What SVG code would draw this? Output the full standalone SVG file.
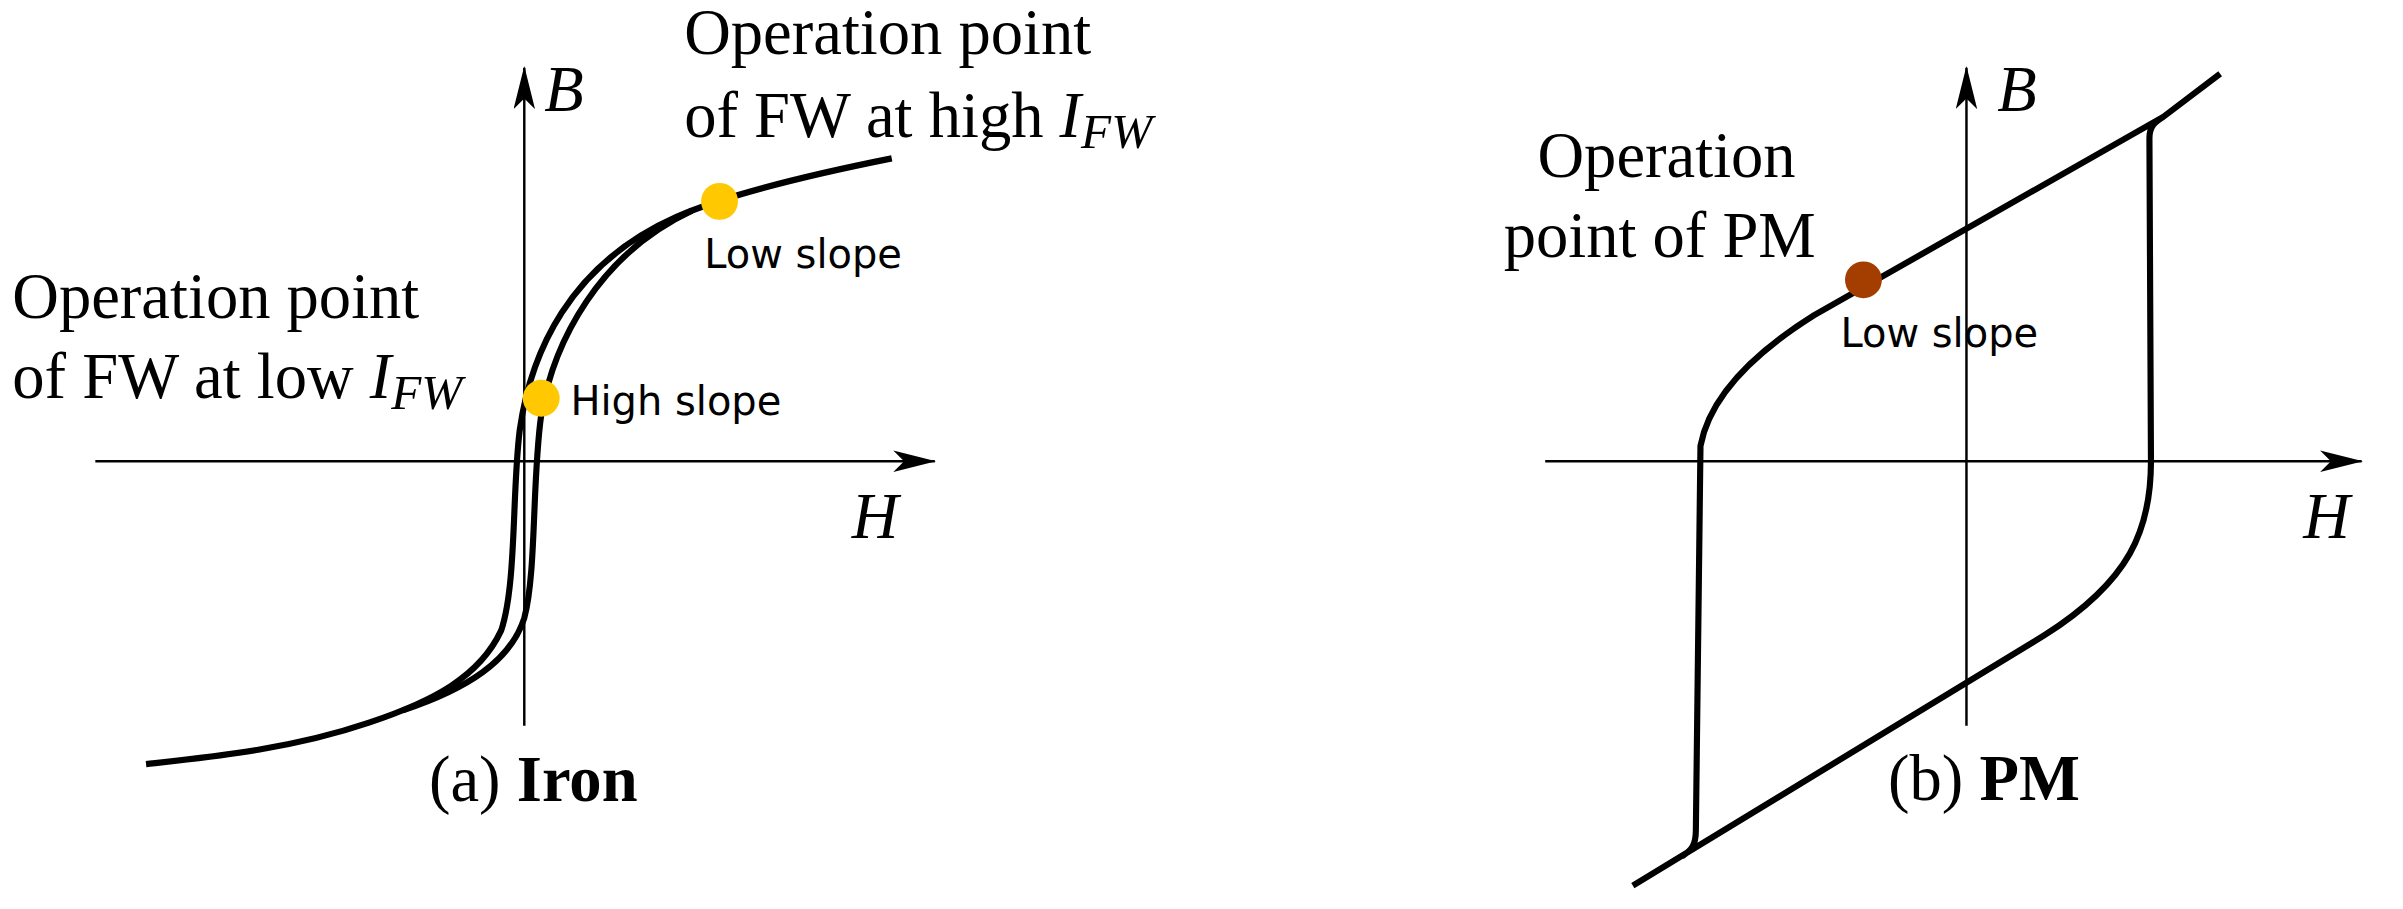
<svg xmlns="http://www.w3.org/2000/svg" width="2403" height="909" viewBox="0 0 2403 909">
<defs>
<style>
.ax{stroke:#000;stroke-width:1.6;fill:none}
.cv{stroke:#000;stroke-width:4;fill:none;stroke-linejoin:round}
.sr{font-family:"Liberation Serif",serif;font-size:42px;fill:#000}
.it{font-style:italic}
.ss{font-family:"DejaVu Sans",sans-serif;font-size:26px;fill:#000}
</style>
<marker id="ar" viewBox="0 0 28 14" refX="27" refY="7" markerWidth="28" markerHeight="14" markerUnits="userSpaceOnUse" orient="auto"><path d="M0,0 L28,7 L0,14 L7,7 Z" fill="#000"/></marker>
</defs>
<rect width="2403" height="909" fill="#fff"/>
<g transform="scale(1.5375)">
<g id="connectors">
<line class="ax" x1="341" y1="472" x2="341" y2="44" marker-end="url(#ar)"/>
<line class="ax" x1="62" y1="300" x2="608" y2="300" marker-end="url(#ar)"/>
<line class="ax" x1="1279" y1="472" x2="1279" y2="44" marker-end="url(#ar)"/>
<line class="ax" x1="1005" y1="300" x2="1536" y2="300" marker-end="url(#ar)"/>
</g>
<g id="iron">
<path class="cv" d="M580,103 C520,115 470,128 440,141 C370,172 345,230 338,280 C333,320 336,380 326,410 C312,440 282,456 240,470 C190,487 140,492 95,497"/>
<path class="cv" d="M450,137 C390,165 360,222 352,270 C346,312 349,372 341,402 C332,430 304,448 262,462"/>
<circle cx="468" cy="131" r="12" fill="#ffc800"/>
<circle cx="352" cy="259" r="12" fill="#ffc800"/>
<text class="sr it" x="354" y="72">B</text>
<text class="sr it" x="554" y="350">H</text>
<text class="ss" x="458" y="174">Low slope</text>
<text class="ss" x="371" y="270">High slope</text>
<text class="sr" x="445" y="35">Operation point</text>
<text class="sr" x="445" y="89">of FW at high <tspan class="it">I</tspan><tspan class="it" font-size="32" dy="7">FW</tspan></text>
<text class="sr" x="8" y="207">Operation point</text>
<text class="sr" x="8" y="259">of FW at low <tspan class="it">I</tspan><tspan class="it" font-size="32" dy="7">FW</tspan></text>
<text class="sr" x="279" y="521">(a) <tspan font-weight="bold">Iron</tspan></text>
</g>
<g id="pm">
<path class="cv" d="M1062,576 L1330,413 C1385,378 1399,345 1399,300 L1398,90 C1398,82 1402,79 1407,76 L1444,48 M1407,76 L1180,205 C1140,230 1112,258 1106,290 L1103,540 C1103,550 1100,553 1094,557"/>
<circle cx="1212" cy="182" r="12" fill="#a33e00"/>
<text class="sr it" x="1299" y="72">B</text>
<text class="sr it" x="1498" y="350">H</text>
<text class="ss" x="1197" y="226">Low slope</text>
<text class="sr" x="1000" y="115">Operation</text>
<text class="sr" x="978" y="167">point of PM</text>
<text class="sr" x="1228" y="520">(b) <tspan font-weight="bold">PM</tspan></text>
</g>
</g>
</svg>
